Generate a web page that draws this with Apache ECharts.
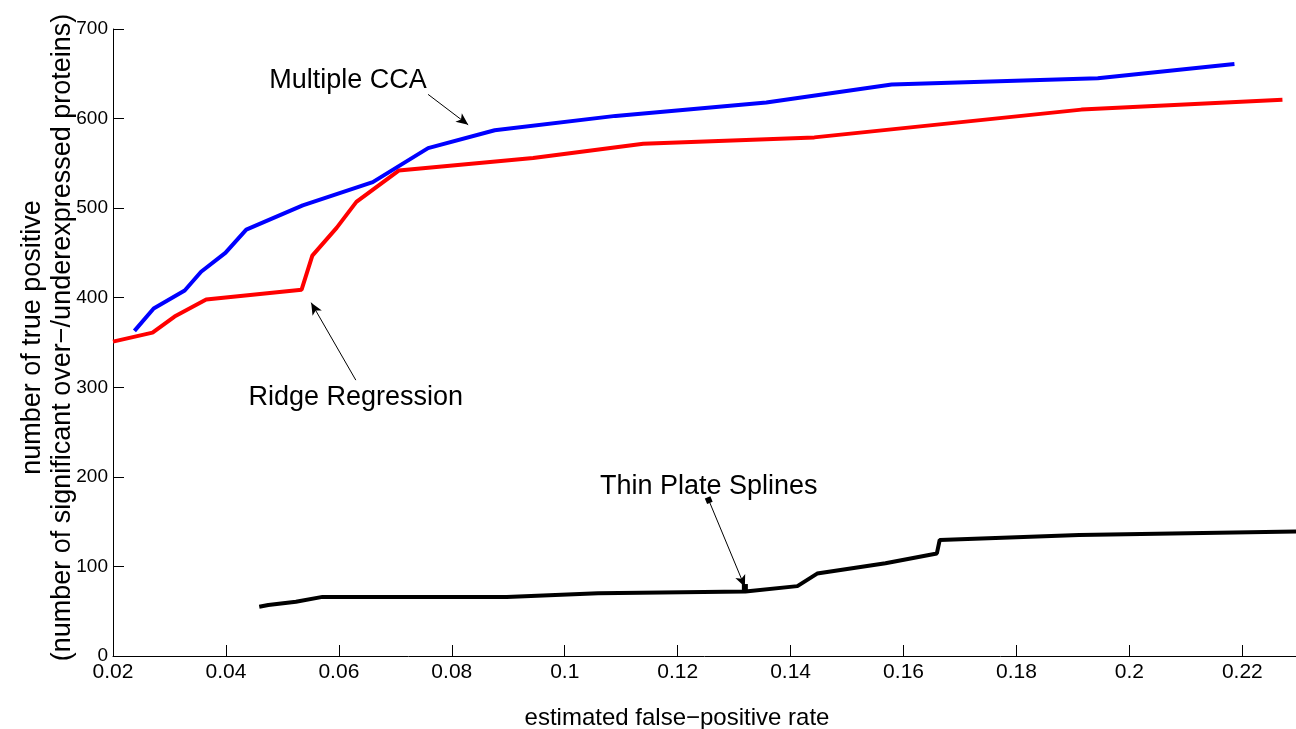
<!DOCTYPE html>
<html>
<head>
<meta charset="utf-8">
<script src="https://cdn.jsdelivr.net/npm/echarts@6/dist/echarts.min.js"></script>
<style>
  html, body { margin: 0; padding: 0; background: #fff; }
  #chart { width: 1296px; height: 729px; }
</style>
</head>
<body>
<div id="chart"></div>
<script>
  // values
  var xTicks = [0.02, 0.04, 0.06, 0.08, 0.1, 0.12, 0.14, 0.16, 0.18, 0.2, 0.22];
  var yTicks = [0, 100, 200, 300, 400, 500, 600, 700];

  var mccaX = [0.0238, 0.0272, 0.0327, 0.0356, 0.0399, 0.0436, 0.0536, 0.066, 0.0758, 0.0876, 0.109, 0.1357, 0.1579, 0.1944, 0.2186];
  var mccaY = [363, 388, 408, 429, 450, 476, 503, 529, 567, 587, 603, 618, 638, 645, 661];

  var ridgeX = [0.02, 0.027, 0.0309, 0.0365, 0.0534, 0.0553, 0.0596, 0.0631, 0.0706, 0.0944, 0.1139, 0.1442, 0.1915, 0.2271];
  var ridgeY = [351, 361, 379, 398, 409, 447, 478, 507, 542, 556, 572, 579, 610, 621];

  var tpsX = [0.0459, 0.0475, 0.0524, 0.0571, 0.0897, 0.1059, 0.132, 0.1412, 0.1447, 0.1568, 0.1659, 0.1664, 0.1911, 0.2295];
  var tpsY = [55, 57, 60.5, 66, 66, 70, 72, 78, 92, 103.5, 114.5, 129.5, 135, 139];

  function pairs(xs, ys) {
    var out = [];
    for (var i = 0; i < xs.length; i++) out.push([xs[i], ys[i]]);
    return out;
  }

  var font = 'Liberation Sans, Arial, Helvetica, sans-serif';

  var chart = echarts.init(document.getElementById('chart'), null, { renderer: 'canvas' });

  var annoLabel = {
    show: true,
    position: 'inside',
    color: '#000',
    fontFamily: font,
    fontSize: 27
  };

  // thin black arrow for the text annotations
  function arrow(from, to, startSymbol) {
    return [
      { coord: from, symbol: startSymbol || 'none', symbolSize: 6 },
      { coord: to, symbol: 'arrow', symbolSize: [8, 12] }
    ];
  }
  var arrowStyle = { color: '#000', width: 1, type: 'solid' };

  var option = {
    animation: false,
    backgroundColor: '#fff',
    grid: { left: 113, top: 29, right: 0, bottom: 73, containLabel: false, outerBoundsMode: 'none' },
    xAxis: {
      type: 'value',
      min: 0.02,
      max: 0.2295,
      interval: 0.02,
      name: 'estimated false\u2212positive rate',
      nameLocation: 'middle',
      nameGap: 50,
      nameMoveOverlap: false,
      nameTextStyle: { color: '#000', fontFamily: font, fontSize: 24, padding: [0, 55, 0, 0] },
      axisLine: { lineStyle: { color: '#000', width: 1 } },
      axisTick: { inside: true, length: 11, lineStyle: { color: '#000' } },
      axisLabel: {
        color: '#000', fontFamily: font, fontSize: 21, margin: 6,
        showMaxLabel: false,
        formatter: function (v) {
          var t = xTicks.find(function (k) { return Math.abs(k - v) < 1e-9; });
          return t === undefined ? '' : String(t);
        }
      },
      splitLine: { show: false }
    },
    yAxis: {
      type: 'value',
      min: 0,
      max: 700,
      interval: 100,
      name: 'number of true positive\n(number of significant over\u2212/underexpressed proteins)',
      nameLocation: 'middle',
      nameGap: 35,
      nameMoveOverlap: false,
      nameTextStyle: { color: '#000', fontFamily: font, fontSize: 27, lineHeight: 30, padding: [0, 0, 0, 10] },
      axisLine: { lineStyle: { color: '#000', width: 1 } },
      axisTick: { inside: true, length: 11, lineStyle: { color: '#000' } },
      axisLabel: {
        color: '#000', fontFamily: font, fontSize: 19, margin: 5,
        formatter: function (v) { return yTicks.indexOf(v) >= 0 ? String(v) : ''; }
      },
      splitLine: { show: false }
    },
    series: [
      {
        name: 'Ridge Regression',
        type: 'line',
        data: pairs(ridgeX, ridgeY),
        showSymbol: false,
        lineStyle: { color: '#ff0000', width: 4 },
        itemStyle: { color: '#ff0000' },
        markLine: {
          silent: true,
          label: { show: false },
          lineStyle: arrowStyle,
          data: [arrow([0.063, 308], [0.0551, 394.5])]
        },
        markPoint: {
          silent: true,
          symbol: 'rect',
          symbolSize: 0,
          label: annoLabel,
          data: [{ coord: [0.063, 289], value: 'Ridge Regression', label: { formatter: 'Ridge Regression' } }]
        }
      },
      {
        name: 'Multiple CCA',
        type: 'line',
        data: pairs(mccaX, mccaY),
        showSymbol: false,
        lineStyle: { color: '#0000ff', width: 4 },
        itemStyle: { color: '#0000ff' },
        markLine: {
          silent: true,
          label: { show: false },
          lineStyle: arrowStyle,
          data: [arrow([0.0758, 627], [0.0829, 593])]
        },
        markPoint: {
          silent: true,
          symbol: 'rect',
          symbolSize: 0,
          label: annoLabel,
          data: [{ coord: [0.0616, 642], value: 'Multiple CCA', label: { formatter: 'Multiple CCA' } }]
        }
      },
      {
        name: 'Thin Plate Splines',
        type: 'line',
        data: pairs(tpsX, tpsY),
        showSymbol: false,
        lineStyle: { color: '#000', width: 4 },
        itemStyle: { color: '#000' },
        markLine: {
          silent: true,
          label: { show: false },
          lineStyle: arrowStyle,
          data: [arrow([0.1255, 174], [0.1319, 77], 'rect')]
        },
        markPoint: {
          silent: true,
          symbol: 'rect',
          symbolSize: 0,
          label: annoLabel,
          data: [
            { coord: [0.1255, 189], value: 'Thin Plate Splines', label: { formatter: 'Thin Plate Splines' } },
            { coord: [0.1319, 77], value: '', symbolSize: 6, itemStyle: { color: '#000' }, label: { show: false } }
          ]
        }
      }
    ]
  };

  chart.setOption(option);
  window.addEventListener('resize', function () { chart.resize(); });
</script>
</body>
</html>
